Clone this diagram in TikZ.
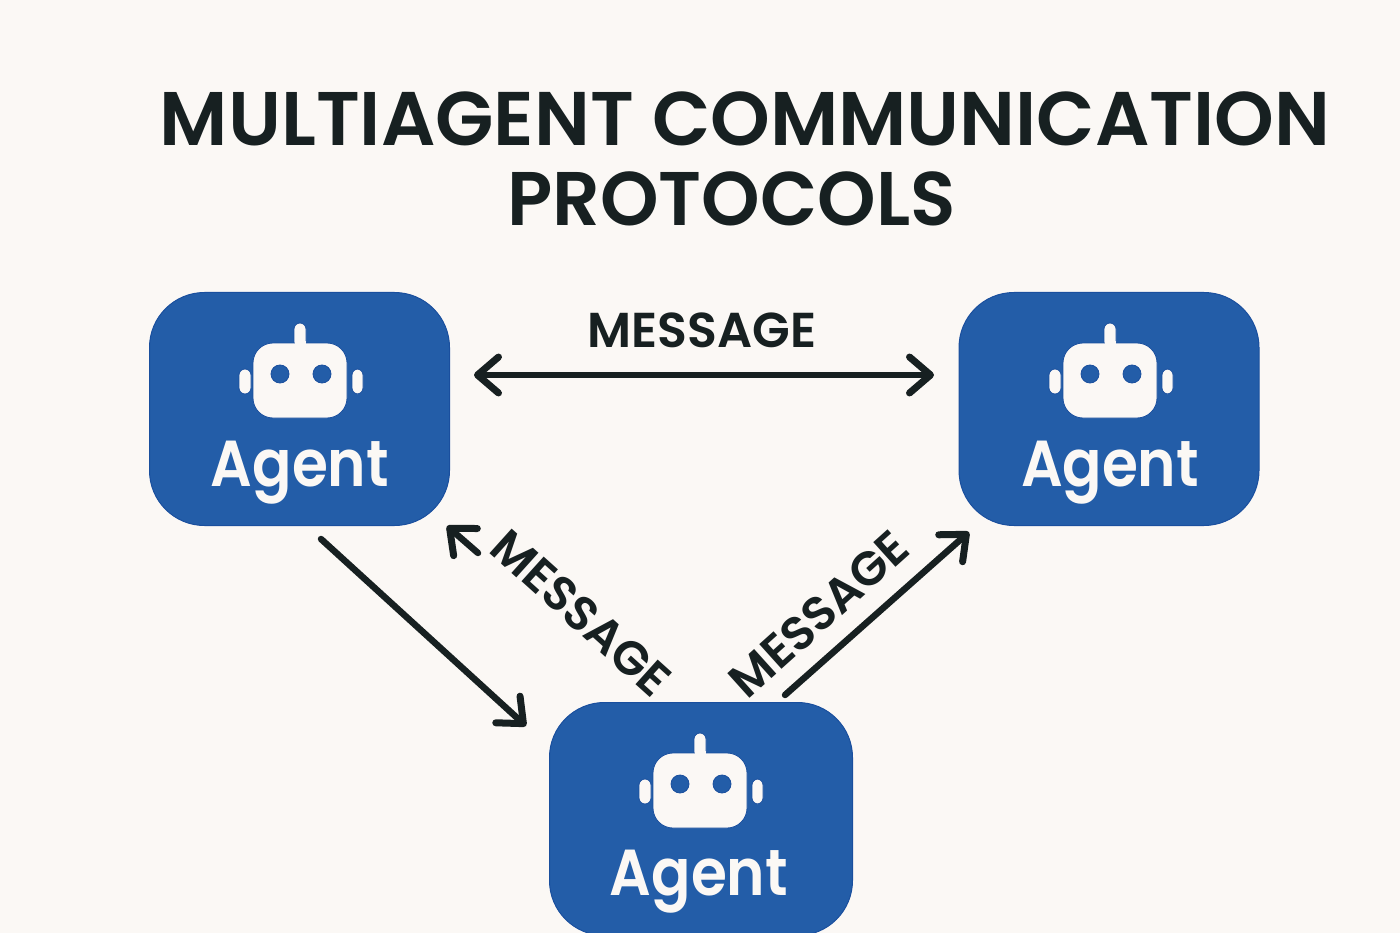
\documentclass[tikz,border=0pt]{standalone}
\usepackage{fontspec}
\setmainfont{Poppins}[BoldFont={Poppins SemiBold}]
\usetikzlibrary{arrows.meta}
\definecolor{bgc}{HTML}{FBF8F5}
\definecolor{agentblue}{HTML}{235DA8}
\definecolor{agentedge}{HTML}{1A4F9E}
\definecolor{inkc}{HTML}{172021}
\tikzset{
  x=1pt,y=-1pt,
  agentbox/.style={draw=agentedge,line width=1pt,fill=agentblue,rounded corners=55pt,minimum width=300pt,minimum height=233pt,inner sep=0pt},
  agenttext/.style={anchor=base,text=bgc,font=\fontsize{65}{65}\selectfont\bfseries,inner sep=0pt,xscale=.895},
  titletext/.style={anchor=base,text=inkc,font=\fontsize{76}{76}\selectfont\bfseries,inner sep=0pt},
  msgtext/.style={anchor=base,text=inkc,font=\fontsize{49}{49}\selectfont\bfseries,inner sep=0pt},
  msgslant/.style={anchor=center,text=inkc,font=\fontsize{47.5}{47.5}\selectfont\bfseries,inner sep=0pt},
  link/.style={draw=inkc,line width=6.5pt,line cap=round,line join=miter,-{Straight Barb[length=21pt,width=36pt,line width=7pt,round]}},
  biglink/.style={link,{Straight Barb[length=21pt,width=36pt,line width=7pt,round]}-{Straight Barb[length=21pt,width=36pt,line width=7pt,round]}},
  robotpart/.style={fill=bgc,draw=agentedge,line width=.8pt},
  roboteye/.style={fill=agentblue,draw=agentedge,line width=.8pt},
  robot/.pic={
    \path[robotpart] (-6,22) -- (-6,6) arc[start angle=180,end angle=360,radius=6] -- (6,22) -- cycle;
    \path[robotpart,rounded corners=6pt] (-49,46) -- (-61,46) -- (-61,71) -- (-49,71) -- cycle;
    \path[robotpart,rounded corners=6pt] (52,46) -- (63,46) -- (63,71) -- (52,71) -- cycle;
    \path[robotpart,rounded corners=20pt] (-47,20) rectangle (47,95);
    \path[fill=bgc] (-5.5,18) rectangle (5.5,24);
    \path[roboteye] (-20,51) circle[radius=9];
    \path[roboteye] (22,51) circle[radius=9];
  },
}
\begin{document}
\begin{tikzpicture}
\useasboundingbox (0,0) rectangle (1400,933);
\fill[bgc] (0,0) rectangle (1400,933);
\clip (0,0) rectangle (1400,933);
\node[titletext] (title1) at (745,146) {MULTIAGENT COMMUNICATION};
\node[titletext,xscale=.98] (title2) at (731.5,226) {PROTOCOLS};
\node[agentbox] (left) at (299.5,409) {};
\node[agentbox] (right) at (1109,409) {};
\node[agentbox,minimum width=303pt] (bottom) at (701,819) {};
\pic at (300,323) {robot};
\pic at (1110,323) {robot};
\pic at (700,733) {robot};
\node[agenttext] (leftlabel) at (300,486) {Agent};
\node[agenttext] (rightlabel) at (1110,486) {Agent};
\node[agenttext] (bottomlabel) at (699,895) {Agent};
\node[msgtext] (msgtop) at (702,347) {MESSAGE};
\node[msgslant,rotate=-42] (msgleft) at (581,613) {MESSAGE};
\node[msgslant,rotate=42] (msgright) at (819,614) {MESSAGE};
\coordinate (a) at (474,375);
\coordinate (b) at (934,375);
\coordinate (c) at (321,539);
\coordinate (d) at (526,726);
\coordinate (e) at (478,553);
\coordinate (f) at (447,526);
\coordinate (g) at (785,695);
\coordinate (h) at (969,532);
\draw[biglink] (a) -- (b);
\draw[link] (c) -- (d);
\draw[link] (e) -- (f);
\draw[link] (g) -- (h);
\end{tikzpicture}
\end{document}
